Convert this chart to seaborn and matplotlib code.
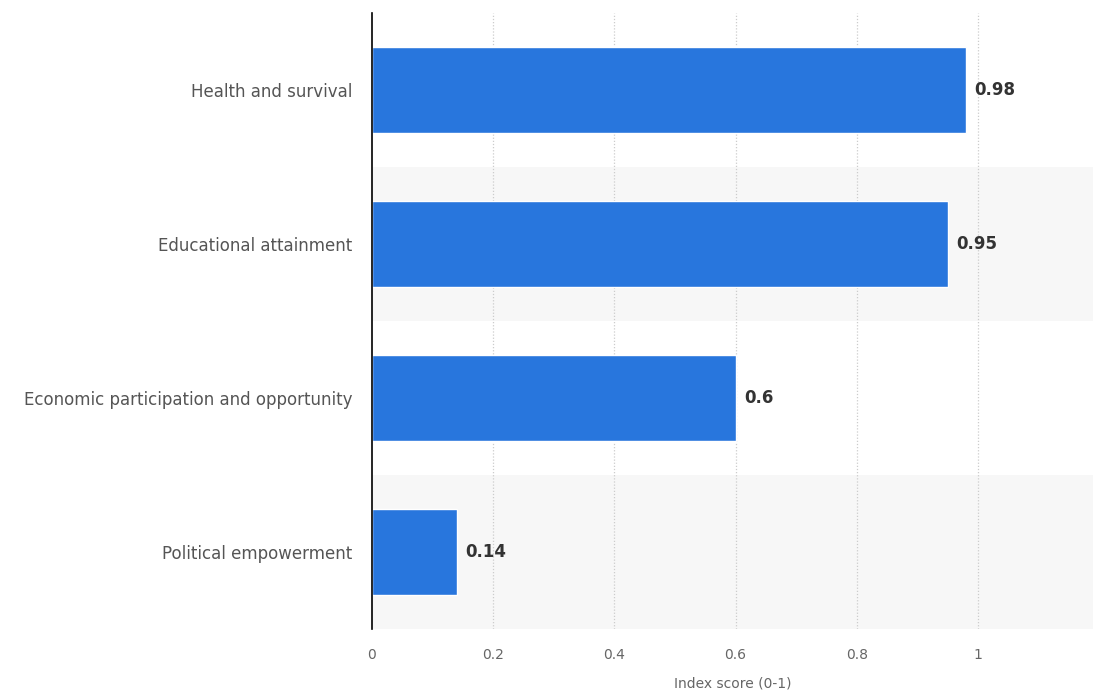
import matplotlib
matplotlib.use("Agg")
import matplotlib.pyplot as plt
import seaborn as sns
import pandas as pd

categories = ["Health and survival", "Educational attainment",
              "Economic participation and opportunity", "Political empowerment"]
values = [0.98, 0.95, 0.6, 0.14]
value_labels = ["0.98", "0.95", "0.6", "0.14"]
xticks = [0, 0.2, 0.4, 0.6, 0.8, 1]
xtick_labels = ["0", "0.2", "0.4", "0.6", "0.8", "1"]

df = pd.DataFrame({"category": categories, "value": values})

sns.set_theme(style="white")
plt.rcParams['font.family'] = ['DejaVu Sans']

fig = plt.figure(figsize=(10.93, 6.93), dpi=100)
ax = fig.add_axes([372/1093, 1 - 629/693, 1 - 372/1093, (629 - 13)/693])

# alternating row bands
for i in range(len(categories)):
    if i % 2 == 1:
        ax.axhspan(i - 0.5, i + 0.5, color="#f7f7f7", zorder=0, lw=0)

sns.barplot(data=df, x="value", y="category", orient="h", color="#2876dd",
            width=0.56, saturation=1, ax=ax, zorder=3)

ax.set_xlim(0, 1.19)
ax.set_ylim(len(categories) - 0.5, -0.5)
ax.set_xticks(xticks)
ax.set_xticklabels(xtick_labels, color="#666666", fontsize=10)
ax.tick_params(axis="x", length=0, pad=14)
ax.tick_params(axis="y", length=0, pad=14, labelsize=12, labelcolor="#555555")
for xt in xticks[1:]:
    ax.axvline(xt, color="#cccccc", lw=0.9, ls=(0, (1, 1.5)), zorder=1)

for sp in ["top", "right", "bottom"]:
    ax.spines[sp].set_visible(False)
ax.spines["left"].set_color("#000000")
ax.spines["left"].set_linewidth(1.2)
ax.spines["left"].set_zorder(5)

ax.set_ylabel("")
ax.set_xlabel("Index score (0-1)", color="#666666", fontsize=10, labelpad=10)

for i, (v, lab) in enumerate(zip(values, value_labels)):
    ax.annotate(lab, xy=(v, i), xytext=(6, 0), textcoords="offset points",
                ha="left", va="center", fontsize=12, fontweight="bold",
                color="#333333", zorder=6)

fig.savefig("out.png", dpi=100)
